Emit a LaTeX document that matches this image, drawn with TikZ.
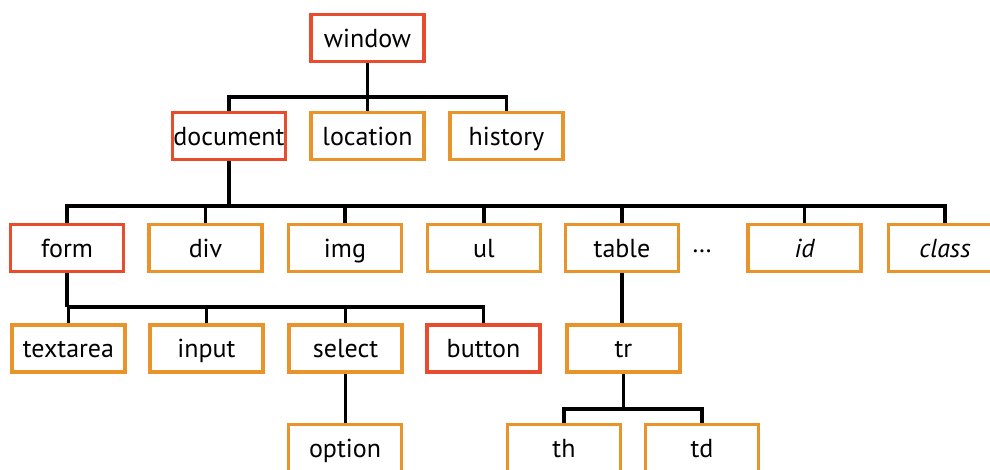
\documentclass[tikz,border=0pt]{standalone}
\usepackage{fontspec}
\setmainfont{PT Sans}
\definecolor{boxorange}{RGB}{233,148,42}
\definecolor{boxred}{RGB}{232,76,44}
\tikzset{
  box/.style={draw=boxorange, line width=3.6pt, minimum width=113pt, minimum height=47pt,
    inner sep=0pt, text height=22pt, text depth=4pt, font=\fontsize{26}{30}\selectfont, fill=white},
  redbox/.style={box, draw=boxred},
  link/.style={line width=3.4pt, black},
}
\begin{document}
\begin{tikzpicture}[x=1pt,y=-1pt]
\useasboundingbox (0,0) rectangle (990,469);
\clip (0,0) rectangle (990,469);
\fill[white] (0,0) rectangle (990,469);
% level 1
\node[redbox] (window) at (367.5,38) {window};
% level 2
\node[redbox] (document) at (229,136) {document};
\node[box] (location) at (367.5,136) {location};
\node[box] (history) at (506.5,136) {history};
% level 3
\node[redbox] (form) at (67,248) {form};
\node[box] (div) at (205.5,248) {div};
\node[box] (img) at (345,248) {img};
\node[box] (ul) at (484,248) {ul};
\node[box] (table) at (622,248) {table};
\node (dots) at (702,251) {\fontsize{26}{30}\selectfont \ldots};
\node[box] (id) at (804.5,248) {\itshape id};
\node[box] (class) at (945,248) {\itshape class};
% level 4
\node[box] (textarea) at (68.5,348.5) {textarea};
\node[box] (input) at (206.5,348.5) {input};
\node[box] (select) at (345.5,348.5) {select};
\node[redbox] (button) at (483.5,348.5) {button};
\node[box] (tr) at (623.5,348.5) {tr};
% level 5
\node[box] (option) at (345,448) {option};
\node[box] (th) at (564,448) {th};
\node[box] (td) at (702,448) {td};
% connectors
\coordinate (b1) at (367.5,97);
\draw[link] (window.south) -- (b1);
\draw[link] (document.north) |- (b1) -| (history.north);
\draw[link] (location.north) -- (b1);
\coordinate (b2) at (229,206);
\draw[link] (document.south) -- (b2);
\draw[link] (form.north) |- (b2);
\draw[link] (b2) -| (class.north);
\foreach \n in {div,img,ul,table,id} \draw[link] (\n.north) -- (\n.north |- b2);
\coordinate (b3) at (67,307);
\draw[link] (form.south) -- (b3);
\draw[link] (textarea.north) |- (b3);
\draw[link] (b3) -| (button.north);
\foreach \n in {input,select} \draw[link] (\n.north) -- (\n.north |- b3);
\draw[link] (table.south) -- (table.south |- tr.north);
\draw[link] (select.south) -- (select.south |- option.north);
\coordinate (b4) at (623.5,409);
\draw[link] (tr.south) -- (b4);
\draw[link] (th.north) |- (b4) -| (td.north);
\end{tikzpicture}
\end{document}
